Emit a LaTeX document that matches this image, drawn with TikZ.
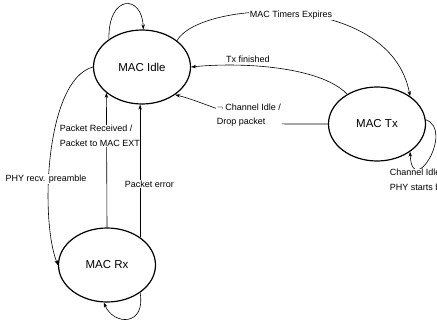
\documentclass[tikz,border=0pt]{standalone}
\usepackage{fontspec}
\setmainfont{Liberation Sans}
\usetikzlibrary{shapes.geometric,arrows.meta}
\tikzset{
  state/.style={draw,ellipse,line width=1.2pt,minimum width=97pt,minimum height=74pt,inner sep=0pt,font=\fontsize{11.5}{14}\selectfont},
  edgelabel/.style={font=\fontsize{9}{14.5}\selectfont,inner sep=0.5pt,align=left},
  >={Stealth[length=5pt,width=3.5pt]}
}

\begin{document}
\begin{tikzpicture}[x=1pt,y=-1pt,line width=0.6pt]
        \useasboundingbox (0,0) rectangle (437,322);
        \clip (0,0) rectangle (437,322);
        \node[state] (idle) at (142,67) {MAC Idle};
        \node[state] (tx) at (377,124) {MAC Tx};
        \node[state] (rx) at (107,265) {MAC Rx};
        % self loops
        \draw[->] (idle.140) .. controls (108,-6) and (142,-6) .. (idle.88);
        \draw[->] (rx.-40) .. controls (146,326) and (114,326) .. (rx.265);
        \draw[->] (tx.5) .. controls (455,130) and (412,200) .. (tx.320);
        \node[edgelabel,fill=white,anchor=west] (txloop) at (389,180) {Channel Idle /\\PHY starts b};
        % idle <-> tx
        \draw[->] (idle.37) .. controls (200,0) and (390,-10) .. (tx.40);
        \node[edgelabel,fill=white] (timer) at (291,15) {MAC Timers Expires};
        \draw[->] (tx.135) .. controls (320,66) and (240,62) .. (idle.east);
        \node[edgelabel] (txdone) at (248,59) {Tx finished};
        \draw[->] (tx.west) -- (288,124) .. controls (245,124) and (205,102) .. (idle.320);
        \node[edgelabel,fill=white,anchor=west] (drop) at (216,115) {$\neg$ Channel Idle /\\Drop packet};
        % idle <-> rx
        \draw[->] (idle.west) .. controls (45,80) and (40,220) .. (rx.west);
        \node[edgelabel,fill=white] (preamble) at (46,179) {PHY recv. preamble};
        \draw[->] (rx.north) -- (idle.216);
        \node[edgelabel,fill=white,anchor=west] (rcvd) at (59,136) {Packet Received /\\Packet to MAC EXT};
        \draw[->] (rx.40) -- (rx.40 |- idle.south);
        \node[edgelabel,fill=white,anchor=west] (perr) at (124,184) {Packet error};
\end{tikzpicture}
\end{document}
